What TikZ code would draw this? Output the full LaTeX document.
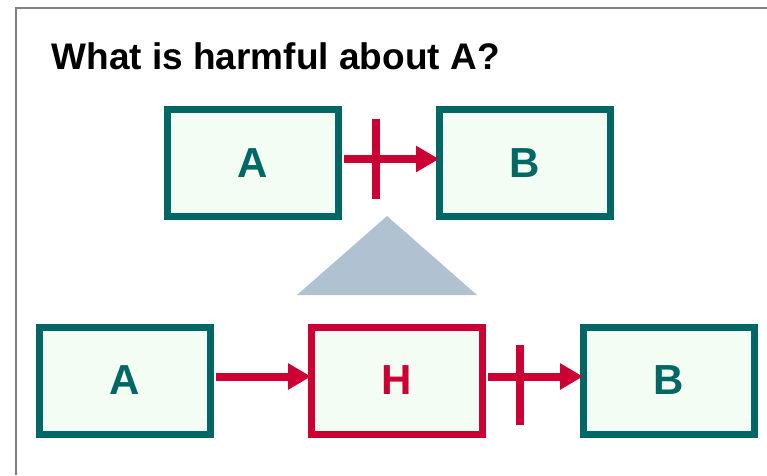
\documentclass[tikz,border=0pt]{standalone}
\usepackage{fontspec}
\setmainfont{Liberation Sans}
\usepackage{xcolor}
\usepackage{tikz}
\usetikzlibrary{arrows.meta}

\definecolor{boxteal}{RGB}{0,104,100}
\definecolor{boxfill}{RGB}{244,253,244}
\definecolor{harmred}{RGB}{204,0,51}
\definecolor{wedgeblue}{RGB}{176,194,210}

\begin{document}
\begin{tikzpicture}[x=1pt, y=-1pt,
    box/.style={draw=boxteal, fill=boxfill, line width=7pt,
        minimum width=171pt, minimum height=107pt,
        inner sep=0pt, outer sep=0pt, text=boxteal,
        font=\fontsize{42}{42}\selectfont\bfseries},
    harmbox/.style={box, draw=harmred, text=harmred},
    link/.style={draw=harmred, line width=8pt, shorten <=5.5pt,
        -{Triangle[length=23pt,width=25pt]}},
    cutbar/.style={draw=harmred, line width=8pt}]

    \useasboundingbox (0,0) rectangle (767,475);

    % Frame
    \draw[gray, line width=2pt] (16,475) -- (16,7.5) -- (767,7.5);

    % Question
    \node[anchor=base west, font=\fontsize{37}{37}\selectfont\bfseries]
        (question) at (48,69) {What is harmful about A?};

    % Top row: A blocks B
    \node[box] (a1) at (253,163) {A};
    \node[box] (b1) at (524.5,163) {B};
    \draw[link] ([yshift=4pt]a1.east) -- coordinate[pos=0.37] (cut1) ([yshift=4pt]b1.west);
    \draw[cutbar] ([yshift=40pt]cut1) -- ([yshift=-40pt]cut1);

    % Wedge between the rows
    \fill[wedgeblue] (387,216) -- (477,295) -- (297,295) -- cycle;

    % Bottom row: A leads to H, H blocks B
    \node[box] (a2) at (124.5,380.5) {A};
    \node[harmbox] (h) at (396.5,380.5) {H};
    \node[box] (b2) at (668.5,380.5) {B};
    \draw[link] ([yshift=4pt]a2.east) -- ([yshift=4pt]h.west);
    \draw[link] ([yshift=4pt]h.east) -- coordinate[pos=0.38] (cut2) ([yshift=4pt]b2.west);
    \draw[cutbar] ([yshift=32pt]cut2) -- ([yshift=-48pt]cut2);

\end{tikzpicture}
\end{document}
